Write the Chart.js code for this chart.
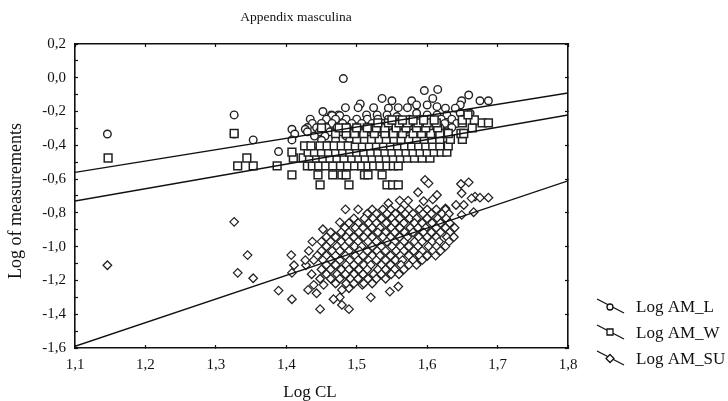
<!DOCTYPE html>
<html>
<head>
<meta charset="utf-8">
<style>
html,body{margin:0;padding:0;background:#fff}
#wrap{width:728px;height:401px}
canvas{display:block;filter:blur(0.45px)}
</style>
<script src="https://cdn.jsdelivr.net/npm/chart.js@4"></script>
</head>
<body>
<div id="wrap"><canvas id="mycanvas" width="728" height="401"></canvas></div>
<script>
var titleText = "Appendix masculina";
var xTitle = "Log CL";
var yTitle = "Log of measurements";
var seriesNames = ["Log AM_L", "Log AM_W", "Log AM_SU"];

// fitted lines, values at x = 1.1 and x = 1.8
var lineX = [1.1, 1.8];
var lineL = [-0.56, -0.09];
var lineW = [-0.73, -0.22];
var lineSU = [-1.59, -0.61];

// points, one y value per row with its x values
var amL_y = [-0.005,-0.069,-0.076,-0.102,-0.122,-0.136,-0.155,-0.161,-0.171,-0.177,-0.18,-0.2,-0.21,-0.22,-0.224,-0.23,-0.245,-0.27,-0.295,-0.305,-0.32,-0.333,-0.345,-0.368,-0.37,-0.4,-0.43,-0.437];
var amL_x = [
  [1.481],
  [1.615],
  [1.596],
  [1.659],
  [1.536,1.608],
  [1.55,1.578,1.649,1.675,1.687],
  [1.505],
  [1.585,1.6,1.647],
  [1.614],
  [1.484,1.502,1.524,1.559,1.572],
  [1.545,1.626,1.64],
  [1.452],
  [1.585,1.647,1.661],
  [1.326,1.464,1.474,1.514,1.529,1.543,1.6,1.614,1.628],
  [1.465,1.476],
  [1.557],
  [1.434,1.457,1.47,1.485,1.5,1.515,1.53,1.545,1.56,1.575,1.59,1.605,1.62,1.635,1.65],
  [1.437,1.45,1.465,1.48,1.493,1.507,1.522,1.537,1.552,1.566,1.58,1.595,1.61,1.625,1.642],
  [1.43,1.443,1.457,1.472,1.487,1.5,1.515,1.53,1.545,1.56,1.574,1.588,1.603,1.618,1.635],
  [1.408,1.427],
  [1.43,1.447,1.462,1.478,1.492,1.507,1.522,1.537,1.552,1.567,1.582,1.597,1.612,1.628],
  [1.146,1.326,1.412],
  [1.44,1.455,1.47,1.485,1.5,1.515,1.53,1.545,1.56,1.575,1.59,1.605],
  [1.353,1.408],
  [1.45,1.47,1.49,1.51,1.53,1.55,1.57,1.59,1.61],
  [1.46,1.485,1.51,1.535,1.56,1.585],
  [1.49,1.52,1.55],
  [1.389]
];

var amW_y = [-0.634,-0.575,-0.522,-0.475,-0.44,-0.403,-0.365,-0.33,-0.297,-0.267,-0.25,-0.22];
var amW_x = [
  [1.448,1.489,1.543,1.551,1.559],
  [1.408,1.445,1.466,1.479,1.485,1.511,1.516,1.536],
  [1.331,1.353,1.387,1.43,1.437,1.446,1.456,1.466,1.477,1.487,1.497,1.507,1.516,1.524,1.533,1.543,1.552,1.559],
  [1.147,1.344,1.41,1.424,1.433,1.443,1.452,1.462,1.472,1.482,1.493,1.503,1.512,1.522,1.532,1.542,1.552,1.562,1.572,1.582,1.593,1.604],
  [1.408,1.431,1.44,1.45,1.46,1.47,1.48,1.49,1.5,1.51,1.52,1.53,1.54,1.55,1.56,1.57,1.58,1.59,1.6,1.61,1.62,1.628],
  [1.426,1.435,1.448,1.458,1.468,1.478,1.488,1.498,1.508,1.518,1.528,1.538,1.548,1.558,1.568,1.578,1.588,1.598,1.608,1.618,1.63],
  [1.5,1.511,1.521,1.532,1.542,1.553,1.563,1.574,1.585,1.596,1.607,1.618,1.633,1.65],
  [1.326,1.47,1.485,1.497,1.51,1.525,1.54,1.552,1.565,1.58,1.592,1.605,1.618,1.63,1.648,1.652],
  [1.45,1.475,1.485,1.5,1.515,1.528,1.54,1.556,1.57,1.585,1.598,1.615,1.664],
  [1.53,1.545,1.56,1.572,1.587,1.6,1.613,1.65,1.678,1.687],
  [1.55,1.565,1.58,1.595,1.61,1.65,1.667],
  [1.658]
];

var amSU_y = [-0.605,-0.619,-0.625,-0.629,-0.678,-0.684,-0.694,-0.704,-0.71,-0.714,-0.72,-0.727,-0.73,-0.743,-0.753,-0.773,-0.779,-0.796,-0.812,-0.853,-0.856,-0.881,-0.897,-0.921,-1.05,-1.055,-1.098,-1.11,-1.155,-1.187,-1.226,-1.236,-1.246,-1.256,-1.26,-1.266,-1.276,-1.3,-1.311,-1.345,-1.37,
  -0.78,-0.805,-0.833,-0.86,-0.888,-0.915,-0.943,-0.97,-0.998,-1.025,-1.053,-1.08,-1.108,-1.135,-1.163,-1.19,-1.218];
var amSU_x = [
  [1.597],
  [1.659],
  [1.602],
  [1.648],
  [1.587],
  [1.649],
  [1.614],
  [1.668],
  [1.675,1.687],
  [1.663],
  [1.608],
  [1.561,1.573],
  [1.595],
  [1.545],
  [1.641,1.652],
  [1.626],
  [1.484,1.502],
  [1.666],
  [1.649],
  [1.326],
  [1.476],
  [1.484],
  [1.452],
  [1.465],
  [1.345,1.407],
  [1.589,1.6],
  [1.585],
  [1.146,1.411,1.428],
  [1.331,1.408],
  [1.353],
  [1.439,1.453,1.508],
  [1.559],
  [1.489],
  [1.431,1.479],
  [1.389],
  [1.547],
  [1.443],
  [1.476,1.52],
  [1.408,1.467],
  [1.479],
  [1.448,1.489],
  // dense middle of the cloud
  [1.522,1.537,1.548,1.563,1.574,1.589,1.6,1.613,1.626],
  [1.515,1.528,1.543,1.555,1.569,1.58,1.594,1.606,1.621,1.631],
  [1.496,1.511,1.523,1.535,1.55,1.561,1.575,1.585,1.6,1.615,1.627],
  [1.489,1.502,1.517,1.528,1.542,1.554,1.567,1.582,1.593,1.607,1.619,1.632],
  [1.483,1.498,1.509,1.522,1.533,1.549,1.561,1.576,1.587,1.598,1.613,1.626,1.639],
  [1.463,1.478,1.489,1.503,1.515,1.53,1.541,1.554,1.568,1.58,1.595,1.606,1.619,1.632],
  [1.457,1.47,1.485,1.496,1.51,1.522,1.537,1.548,1.561,1.572,1.588,1.6,1.613,1.628,1.638],
  [1.437,1.45,1.463,1.478,1.489,1.502,1.516,1.528,1.543,1.554,1.567,1.582,1.593,1.607,1.617,1.631],
  [1.457,1.472,1.483,1.497,1.507,1.522,1.535,1.55,1.562,1.574,1.587,1.602,1.613,1.626],
  [1.432,1.45,1.465,1.476,1.489,1.504,1.515,1.529,1.541,1.556,1.567,1.581,1.593,1.608,1.619],
  [1.444,1.457,1.47,1.484,1.498,1.509,1.522,1.533,1.548,1.562,1.574,1.589,1.6,1.612],
  [1.427,1.439,1.452,1.463,1.476,1.49,1.502,1.517,1.528,1.541,1.555,1.565,1.58,1.593],
  [1.457,1.47,1.485,1.496,1.51,1.52,1.535,1.548,1.563,1.574,1.585],
  [1.45,1.463,1.478,1.489,1.503,1.515,1.53,1.541,1.554,1.567],
  [1.436,1.457,1.472,1.484,1.496,1.509,1.524,1.535,1.549,1.56],
  [1.448,1.463,1.476,1.491,1.502,1.516,1.528,1.541],
  [1.47,1.485,1.496,1.51,1.522]
];

function rowsToPoints(rowY, rowX) {
  var pts = [];
  for (var i in rowY) {
    for (var j in rowX[i]) {
      pts.push({x: rowX[i][j], y: rowY[i]});
    }
  }
  return pts;
}

function linePoints(ys) {
  return [{x: lineX[0], y: ys[0]}, {x: lineX[1], y: ys[1]}];
}

var ink = "#111";
var serif = "'Liberation Serif', serif";

function markerSet(pts, style, r, lw) {
  return {type: "scatter", data: pts, pointStyle: style, pointRadius: r,
    pointBorderColor: "#222", pointBackgroundColor: "#fff", pointBorderWidth: lw};
}
function fitLine(ys) {
  return {type: "scatter", data: linePoints(ys), showLine: true, borderColor: ink,
    borderWidth: 1.4, pointRadius: 0, fill: false};
}

// title, axis captions and the slanted legend samples
var textPlugin = {
  id: "textPlugin",
  afterDraw: function(chart) {
    var c = chart.ctx;
    c.save();
    c.fillStyle = ink;
    c.strokeStyle = ink;
    c.textBaseline = "middle";
    c.font = "13.5px " + serif;
    c.textAlign = "center";
    c.fillText(titleText, 296, 17);
    c.font = "17px " + serif;
    c.fillText(xTitle, 310, 393);
    c.save();
    c.translate(16, 201);
    c.rotate(-Math.PI / 2);
    c.font = "18px " + serif;
    c.fillText(yTitle, 0, 0);
    c.restore();

    c.textAlign = "left";
    var rows = [299, 325, 351];
    for (var i = 0; i < 3; i++) {
      var y = rows[i];
      c.lineWidth = 1.3;
      c.beginPath();
      c.moveTo(597, y);
      c.lineTo(624, y + 14);
      c.stroke();
      c.fillStyle = "#fff";
      c.beginPath();
      if (i == 0) c.arc(610, y + 8, 3, 0, Math.PI * 2);
      if (i == 1) c.rect(607, y + 4, 6, 6);
      if (i == 2) { c.moveTo(610, y + 3.5); c.lineTo(614, y + 7.5); c.lineTo(610, y + 11.5); c.lineTo(606, y + 7.5); c.closePath(); }
      c.fill();
      c.stroke();
      c.fillStyle = ink;
      c.fillText(seriesNames[i], 636, y + 9);
    }
    c.restore();
  }
};

function axisLabel(v) {
  return (Math.round(v * 10) / 10).toFixed(1).replace(".", ",");
}

function frameGrid() {
  return {drawOnChartArea: false, drawTicks: true, tickLength: -3, tickColor: ink, tickWidth: 1.2};
}
var frameBorder = {display: true, color: ink, width: 1.6};

// chart.js paints the last dataset first, so AM_L ends up underneath AM_W
new Chart(document.getElementById("mycanvas"), {
  type: "scatter",
  data: {
    datasets: [
      fitLine(lineL), fitLine(lineW), fitLine(lineSU),
      markerSet(rowsToPoints(amSU_y, amSU_x), "rectRot", 4.3, 1.25),
      markerSet(rowsToPoints(amW_y, amW_x), "rect", 5.5, 1.5),
      markerSet(rowsToPoints(amL_y, amL_x), "circle", 3.8, 1.4)
    ]
  },
  options: {
    responsive: false,
    animation: {duration: 0},
    layout: {padding: {left: 0, right: 160, top: 44, bottom: 0}},
    plugins: {legend: {display: false}, tooltip: {enabled: false}},
    scales: {
      x: {
        type: "linear", position: "bottom", min: 1.1, max: 1.8,
        grid: frameGrid(), border: frameBorder,
        ticks: {stepSize: 0.1, color: ink, padding: 11, maxRotation: 0, autoSkip: false,
          font: {family: serif, size: 15}, callback: axisLabel},
        afterFit: function(s) { s.height = 53; }
      },
      y: {
        type: "linear", position: "left", min: -1.6, max: 0.2,
        grid: frameGrid(), border: frameBorder,
        ticks: {stepSize: 0.1, color: ink, padding: 12, autoSkip: false,
          font: {family: serif, size: 15},
          callback: function(v) { return Math.round(v * 10) % 2 == 0 ? axisLabel(v) : ""; }},
        afterFit: function(s) { s.width = 75; }
      },
      xTop: {
        type: "linear", position: "top", min: 1.1, max: 1.8,
        grid: frameGrid(), border: frameBorder,
        ticks: {display: false, stepSize: 0.1},
        afterFit: function(s) { s.height = 0; }
      },
      yRight: {
        type: "linear", position: "right", min: -1.6, max: 0.2,
        grid: frameGrid(), border: frameBorder,
        ticks: {display: false, stepSize: 0.2},
        afterFit: function(s) { s.width = 0; }
      }
    }
  },
  plugins: [textPlugin]
});
</script>
</body>
</html>
